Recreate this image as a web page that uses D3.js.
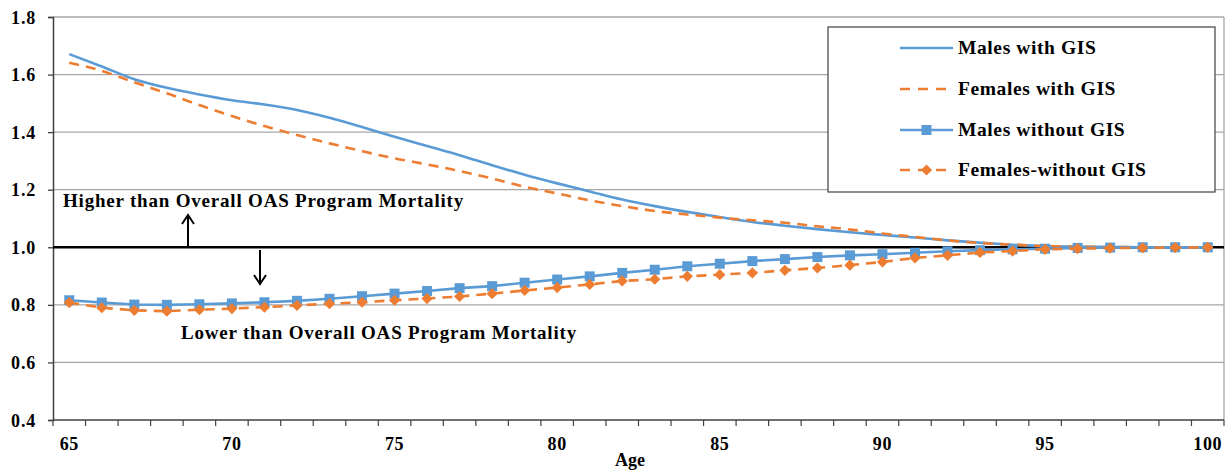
<!DOCTYPE html>
<html><head><meta charset="utf-8">
<script src="https://cdn.jsdelivr.net/npm/d3@7"></script>
<style>body{margin:0;background:#fff}svg{display:block}</style>
</head><body><svg id="c" width="1232" height="474"></svg>
<script>
const ages = d3.range(65, 101);
const yTicks = [0.4, 0.6, 0.8, 1.0, 1.2, 1.4, 1.6, 1.8];
const xTickLabels = [65, 70, 75, 80, 85, 90, 95, 100];
const seriesNames = ["Males with GIS", "Females with GIS", "Males without GIS", "Females-without GIS"];
const malesWithGIS = [1.671,1.628,1.584,1.554,1.531,1.511,1.496,1.477,1.45,1.418,1.384,1.352,1.32,1.285,1.252,1.222,1.194,1.166,1.143,1.123,1.105,1.088,1.075,1.063,1.052,1.043,1.034,1.024,1.016,1.009,1.004,1.002,1.001,1.0,1.0,1.0];
const femalesWithGIS = [1.641,1.613,1.573,1.535,1.494,1.456,1.421,1.39,1.361,1.334,1.309,1.288,1.265,1.239,1.21,1.187,1.163,1.143,1.126,1.114,1.103,1.094,1.085,1.073,1.062,1.048,1.036,1.024,1.015,1.009,1.004,1.002,1.001,1.0,1.0,1.0];
const malesWithoutGIS = [0.816,0.808,0.801,0.8,0.802,0.805,0.809,0.814,0.821,0.83,0.839,0.848,0.858,0.865,0.877,0.888,0.899,0.911,0.922,0.934,0.943,0.952,0.959,0.966,0.972,0.976,0.981,0.986,0.99,0.993,0.995,0.998,0.999,1.0,1.0,1.0];
const femalesWithoutGIS = [0.808,0.79,0.781,0.778,0.783,0.787,0.792,0.798,0.804,0.809,0.816,0.822,0.829,0.839,0.85,0.86,0.871,0.883,0.889,0.899,0.905,0.911,0.92,0.928,0.938,0.949,0.963,0.972,0.982,0.987,0.993,0.995,0.997,0.998,0.999,1.0];
const annotations = ["Higher than Overall OAS Program Mortality", "Lower than Overall OAS Program Mortality"];

const FONT = "'Times New Roman', 'Liberation Serif', 'DejaVu Serif', serif";
const svg = d3.select("#c").attr("font-family", FONT).attr("font-weight", "bold");
const L = 53, R = 1224, T = 17, B = 420;
const x = d3.scaleBand().domain(ages).range([L, R]).padding(0);
const y = d3.scaleLinear().domain([0.4, 1.8]).range([B, T]);
const cx = a => x(a) + x.bandwidth() / 2;
const blue = "#5B9BD5", orange = "#ED7D31";

// gridlines
svg.append("g").selectAll("line").data(yTicks.filter(v => v !== 0.4 && v !== 1.0)).join("line")
  .attr("x1", L).attr("x2", R).attr("y1", d => y(d)).attr("y2", d => y(d))
  .attr("stroke", "#a6a6a6").attr("stroke-width", 1.3);
svg.append("line").attr("x1", R).attr("x2", R).attr("y1", T).attr("y2", B).attr("stroke", "#a6a6a6").attr("stroke-width", 1.3);

// y axis
const yAxis = svg.append("g").attr("transform", `translate(${L},0)`)
  .call(d3.axisLeft(y).tickValues(yTicks).tickFormat(d3.format(".1f")).tickSize(5).tickPadding(12));
yAxis.attr("font-family", FONT).attr("font-weight", "bold").attr("font-size", 18);
yAxis.select(".domain").attr("stroke", "#404040").attr("stroke-width", 1.5);
yAxis.selectAll(".tick line").attr("stroke", "#404040").attr("stroke-width", 1.3);
yAxis.selectAll("text").attr("fill", "#000").attr("dy", "0.34em").attr("letter-spacing", 0.8);

// x axis, ticks at band edges
const edges = ages.map(a => x(a)).concat([R]);
svg.append("line").attr("x1", L).attr("x2", R).attr("y1", B).attr("y2", B).attr("stroke", "#404040").attr("stroke-width", 1.6);
svg.append("g").selectAll("line").data(edges).join("line")
  .attr("x1", d => d).attr("x2", d => d).attr("y1", B).attr("y2", B + 6).attr("stroke", "#404040").attr("stroke-width", 1.2);
svg.append("g").selectAll("text").data(xTickLabels).join("text")
  .attr("x", d => cx(d)).attr("y", B + 30).attr("text-anchor", "middle").attr("font-size", 18).attr("letter-spacing", 0.6).text(d => d);
svg.append("text").attr("x", 630).attr("y", 466).attr("text-anchor", "middle").attr("font-size", 18).text("Age");

// 1.0 reference line
svg.append("line").attr("x1", L).attr("x2", R).attr("y1", y(1)).attr("y2", y(1)).attr("stroke", "#000").attr("stroke-width", 2.6);

// annotations and arrows
svg.append("text").attr("x", 63).attr("y", 207).attr("font-size", 19).attr("letter-spacing", 0.8).text(annotations[0]);
svg.append("text").attr("x", 181).attr("y", 339).attr("font-size", 19).attr("letter-spacing", 0.8).text(annotations[1]);
const arrow = (xx, y1, y2) => {
  const g = svg.append("g").attr("stroke", "#000").attr("stroke-width", 2).attr("fill", "none");
  g.append("line").attr("x1", xx).attr("x2", xx).attr("y1", y1).attr("y2", y2);
  const dir = y2 < y1 ? 1 : -1;
  g.append("path").attr("d", `M${xx - 6},${y2 + dir * 9}L${xx},${y2}L${xx + 6},${y2 + dir * 9}`);
};
arrow(188, y(1) - 1, 215);
arrow(260, 250, 284);

// series
const line = vals => d3.line().x((d, i) => cx(ages[i])).y(d => y(d)).curve(d3.curveMonotoneX)(vals);
svg.append("path").attr("d", line(malesWithGIS)).attr("fill", "none").attr("stroke", blue).attr("stroke-width", 2.6);
svg.append("path").attr("d", line(femalesWithGIS)).attr("fill", "none").attr("stroke", orange).attr("stroke-width", 2.6).attr("stroke-dasharray", "10,7");
const lineS = vals => d3.line().x((d, i) => cx(ages[i])).y(d => y(d))(vals);
svg.append("path").attr("d", lineS(malesWithoutGIS)).attr("fill", "none").attr("stroke", blue).attr("stroke-width", 2.6);
svg.append("g").selectAll("rect").data(malesWithoutGIS).join("rect")
  .attr("x", (d, i) => cx(ages[i]) - 5).attr("y", d => y(d) - 5).attr("width", 10).attr("height", 10).attr("fill", blue);
svg.append("path").attr("d", lineS(femalesWithoutGIS)).attr("fill", "none").attr("stroke", orange).attr("stroke-width", 2.6).attr("stroke-dasharray", "10,7");
const diamond = d3.symbol().type(d3.symbolDiamond2).size(80);
svg.append("g").selectAll("path").data(femalesWithoutGIS).join("path")
  .attr("transform", (d, i) => `translate(${cx(ages[i])},${y(d)})`).attr("d", diamond).attr("fill", orange);

// legend
const lg = svg.append("g");
lg.append("rect").attr("x", 828).attr("y", 27).attr("width", 387).attr("height", 165).attr("fill", "#fff").attr("stroke", "#404040").attr("stroke-width", 1.2);
const rows = [48, 89, 130, 170];
seriesNames.forEach((name, i) => {
  const yy = rows[i];
  const col = i % 2 === 0 ? blue : orange;
  lg.append("line").attr("x1", 900).attr("x2", 953).attr("y1", yy).attr("y2", yy).attr("stroke", col).attr("stroke-width", 2.6)
    .attr("stroke-dasharray", i % 2 === 1 ? "10,8" : null);
  if (i === 2) lg.append("rect").attr("x", 921.5).attr("y", yy - 5).attr("width", 10).attr("height", 10).attr("fill", blue);
  if (i === 3) lg.append("path").attr("transform", `translate(926.5,${yy})`).attr("d", diamond).attr("fill", orange);
  lg.append("text").attr("x", 958).attr("y", yy + 6).attr("font-size", 19.5).attr("letter-spacing", 0.6).text(name);
});
</script></body></html>
